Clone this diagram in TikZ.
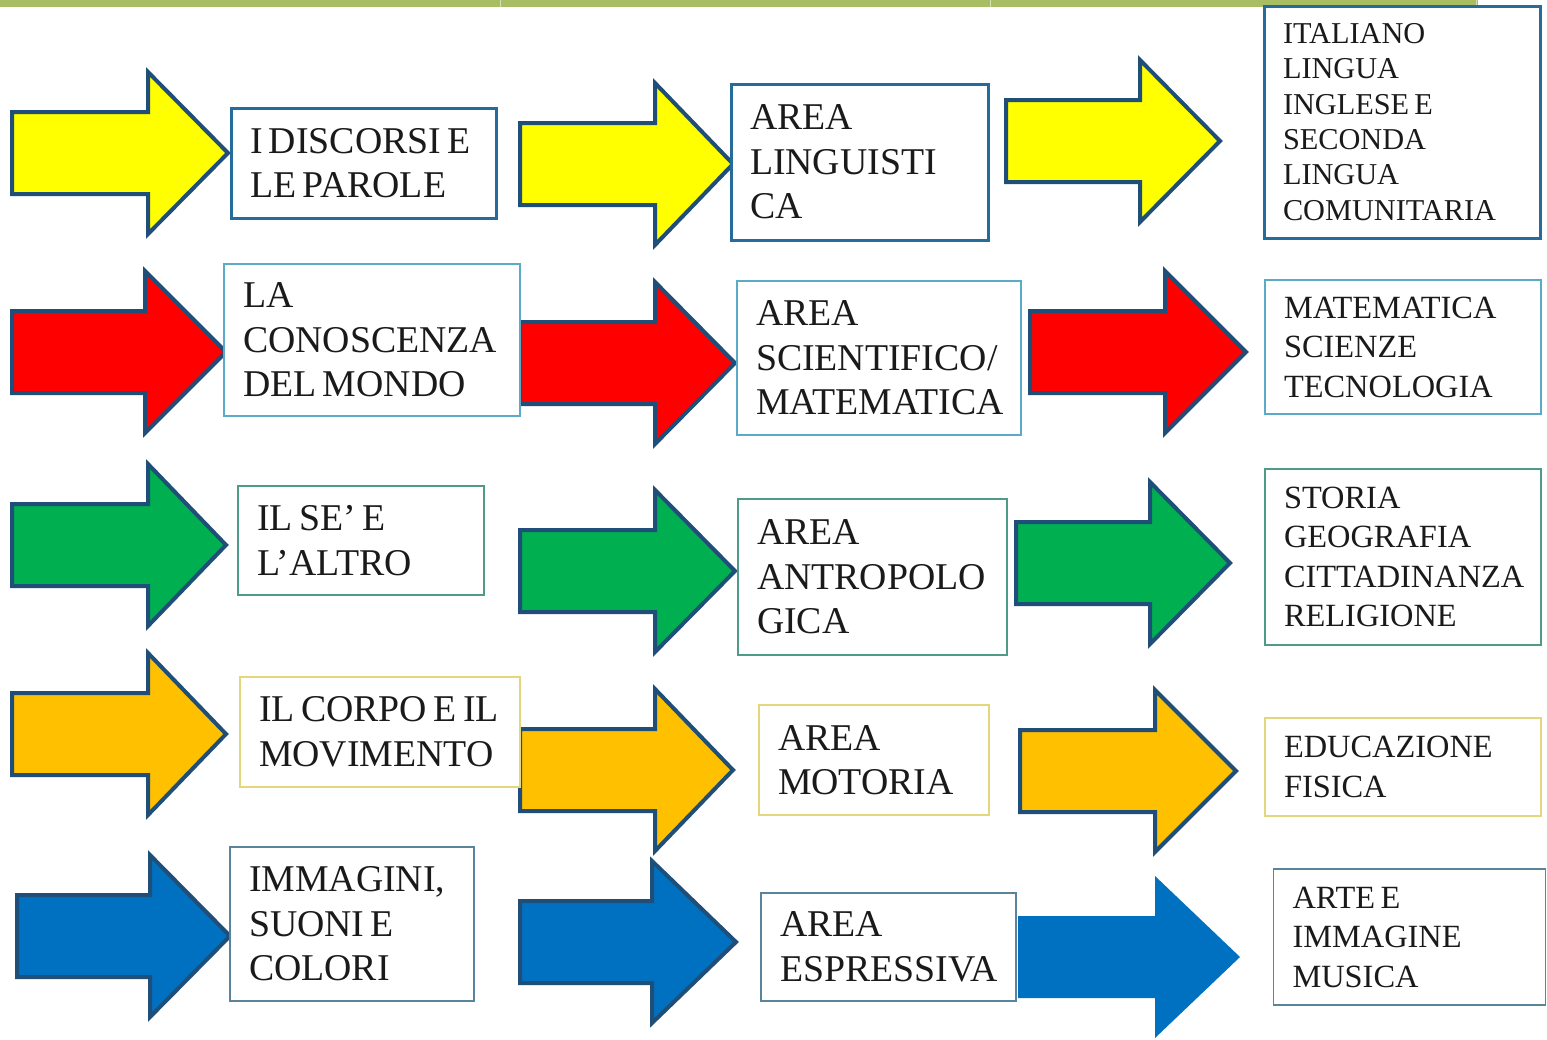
\documentclass[tikz,border=0pt]{standalone}
\usepackage{fontspec}
\setmainfont{Liberation Serif}
\newfontfamily\boxserif{Liberation Serif}
\hyphenpenalty=10000
\exhyphenpenalty=10000
\newcommand\tline[1]{\mbox{\spaceskip=0.17em\relax #1}}
\definecolor{band}{HTML}{A9BE62}
\definecolor{bandline}{HTML}{D8E0B0}
\definecolor{aline}{HTML}{1F4E79}
\definecolor{cyel}{HTML}{FFFF00}
\definecolor{cred}{HTML}{FF0000}
\definecolor{cgrn}{HTML}{00B050}
\definecolor{corg}{HTML}{FFC000}
\definecolor{cblu}{HTML}{0070C0}
\definecolor{bone}{HTML}{256C9C}
\definecolor{btwo}{HTML}{5AAAC8}
\definecolor{bthree}{HTML}{4E9C88}
\definecolor{bfour}{HTML}{E3D67C}
\definecolor{bfive}{HTML}{5A849C}
\definecolor{txt}{HTML}{1A1A1A}
\tikzset{
  tbox/.style={draw, fill=white, line width=1.6pt, inner xsep=19pt, inner ysep=0pt,
    align=left, anchor=center, text=txt},
  bigtext/.style={font=\boxserif\fontsize{37.8}{44.5}\selectfont},
  midtext/.style={font=\boxserif\fontsize{32.4}{39.5}\selectfont},
  smalltext/.style={font=\boxserif\fontsize{30.3}{35.3}\selectfont},
  arrowline/.style={draw=aline, line width=4pt, line join=miter},
  noline/.style={draw=none},
}
% #1 style, #2 fill, #3 tail x, #4 head base x, #5 tip x, #6 centre y
\newcommand\blockarr[6]{%
  \path[#1, fill=#2] (#3,{#6-41}) -- (#4,{#6-41}) -- (#4,{#6-81}) -- (#5,#6)
    -- (#4,{#6+81}) -- (#4,{#6+41}) -- (#3,{#6+41}) -- cycle;}
\begin{document}
\begin{tikzpicture}[x=1pt,y=-1pt]
\useasboundingbox (0,0) rectangle (1547,1039);
\fill[white] (0,0) rectangle (1547,1039);
% top band
\fill[band] (0,0) rectangle (1478,7);
\foreach \xx in {500,990,1476} \draw[bandline, line width=1pt] (\xx,0) -- (\xx,7);

% arrows
\blockarr{arrowline}{cyel}{12}{148}{228}{153}
\blockarr{arrowline}{cyel}{520}{655}{733}{164}
\blockarr{arrowline}{cyel}{1006}{1140}{1220}{141}
\blockarr{arrowline}{cred}{12}{145}{226}{352}
\blockarr{arrowline}{cred}{520}{655}{735}{363}
\blockarr{arrowline}{cred}{1030}{1165}{1246}{352}
\blockarr{arrowline}{cgrn}{12}{148}{226}{545}
\blockarr{arrowline}{cgrn}{520}{655}{735}{571}
\blockarr{arrowline}{cgrn}{1016}{1150}{1230}{563}
\blockarr{arrowline}{corg}{12}{148}{226}{734}
\blockarr{arrowline}{corg}{520}{655}{733}{770}
\blockarr{arrowline}{corg}{1020}{1155}{1236}{771}
\blockarr{arrowline}{cblu}{17}{150}{230}{936}
\blockarr{arrowline}{cblu}{520}{652}{736}{942}
\blockarr{noline}{cblu}{1018}{1155}{1240}{957}

% row 1
\node[tbox, bigtext, draw=bone, line width=3pt, minimum height=110pt, text width=227pt] (a1) at (363.5,163) {\tline{I DISCORSI E}\\\tline{LE PAROLE}};
\node[tbox, bigtext, draw=bone, line width=3pt, minimum height=156pt, text width=219pt] (b1) at (859.5,162) {AREA\\LINGUISTI\\CA};
\node[tbox, smalltext, draw=bone, line width=3pt, minimum height=232pt, text width=238pt] (c1) at (1402,122) {ITALIANO\\LINGUA\\\tline{INGLESE E}\\SECONDA\\LINGUA\\COMUNITARIA};
% row 2
\node[tbox, bigtext, draw=btwo, minimum height=152pt, text width=258pt] (a2) at (372,340) {LA\\CONOSCENZA\\\tline{DEL MONDO}};
\node[tbox, bigtext, draw=btwo, minimum height=154pt, text width=246pt] (b2) at (879,358) {AREA\\SCIENTIFICO/\\MATEMATICA};
\node[tbox, midtext, draw=btwo, minimum height=134pt, text width=238pt] (c2) at (1403,347) {MATEMATICA\\SCIENZE\\TECNOLOGIA};
% row 3
\node[tbox, bigtext, draw=bthree, minimum height=109pt, text width=208pt] (a3) at (361,540.5) {\tline{IL SE’ E}\\L’ALTRO};
\node[tbox, bigtext, draw=bthree, minimum height=156pt, text width=231pt] (b3) at (872.5,577) {AREA\\ANTROPOLO\\GICA};
\node[tbox, midtext, draw=bthree, minimum height=176pt, text width=238pt] (c3) at (1403,557) {STORIA\\GEOGRAFIA\\CITTADINANZA\\RELIGIONE};
% row 4
\node[tbox, bigtext, draw=bfour, line width=2pt, minimum height=110pt, text width=242pt] (a4) at (380,732) {\tline{IL CORPO E IL}\\MOVIMENTO};
\node[tbox, bigtext, draw=bfour, line width=2pt, minimum height=110pt, text width=192pt] (b4) at (874,760) {AREA\\MOTORIA};
\node[tbox, midtext, draw=bfour, line width=2pt, minimum height=98pt, text width=238pt] (c4) at (1403,767) {EDUCAZIONE\\FISICA};
% row 5
\node[tbox, bigtext, draw=bfive, minimum height=154pt, text width=206pt] (a5) at (352,924) {IMMAGINI,\\\tline{SUONI E}\\COLORI};
\node[tbox, bigtext, draw=bfive, minimum height=108pt, text width=217pt] (b5) at (888.5,947) {AREA\\ESPRESSIVA};
\node[tbox, midtext, draw=bfive, minimum height=136pt, text width=234pt] (c5) at (1409.5,937) {\tline{ARTE E}\\IMMAGINE\\MUSICA};
\end{tikzpicture}
\end{document}
